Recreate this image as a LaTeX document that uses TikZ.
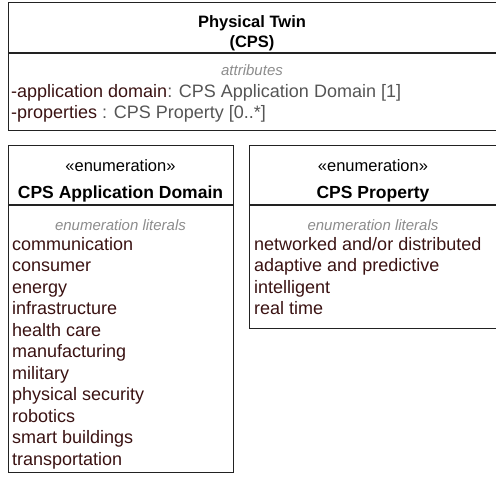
\documentclass[tikz,border=0pt]{standalone}
\usepackage{fontspec}
\setmainfont{Liberation Sans}
\definecolor{lit}{HTML}{3A1212}
\definecolor{typ}{HTML}{555555}
\definecolor{cap}{HTML}{8C8C8C}
\definecolor{edge}{HTML}{222222}
\begin{document}
\begin{tikzpicture}[x=1pt,y=-1pt,
  umlbox/.style={draw=edge,line width=1.4pt,inner sep=0pt,anchor=north west},
  divider/.style={draw=edge,line width=1.4pt},
  clstitle/.style={font=\fontsize{16.5}{20}\selectfont\bfseries,anchor=base,inner sep=0pt},
  title/.style={font=\fontsize{17.5}{20}\selectfont\bfseries,anchor=base,inner sep=0pt},
  stereo/.style={font=\fontsize{16.5}{20}\selectfont,anchor=base,inner sep=0pt},
  caption/.style={font=\fontsize{15}{18}\selectfont\itshape,text=cap,anchor=base,inner sep=0pt},
  item/.style={font=\fontsize{18}{21}\selectfont,text=lit,anchor=base west,inner sep=0pt}]
\useasboundingbox (0,0) rectangle (496,480);

% class box
\node[umlbox,minimum width=490pt,minimum height=128pt] (cls) at (8,2) {};
\coordinate (clsdl) at (8,53);
\coordinate (clsdr) at (498,53);
\draw[divider] (clsdl) -- (clsdr);
\node[clstitle] (clsname) at (252,27) {Physical Twin};
\node[clstitle] (clscps) at (252,47) {(CPS)};
\node[caption] (clsattr) at (252,75) {attributes};
\node[item] (attr1) at (11,97) {-application domain\textcolor{typ}{: CPS Application Domain [1]}};
\node[item] (attr2) at (11,118) {-properties\ \textcolor{typ}{: CPS Property [0..*]}};

% enumeration: application domain
\node[umlbox,minimum width=225pt,minimum height=327pt] (dom) at (8,145) {};
\coordinate (domdl) at (8,205);
\coordinate (domdr) at (233,205);
\draw[divider] (domdl) -- (domdr);
\node[stereo] (domst) at (120.5,171) {«enumeration»};
\node[title] (domname) at (120.5,198) {CPS Application Domain};
\node[caption] (domcap) at (120.5,230) {enumeration literals};
\foreach \t [count=\i from 0] in {communication,consumer,energy,infrastructure,health care,manufacturing,military,physical security,robotics,smart buildings,transportation}
  \node[item] (dom\i) at (12,250+21.5*\i) {\t};

% enumeration: property
\node[umlbox,minimum width=249pt,minimum height=183pt] (prop) at (249,145) {};
\coordinate (propdl) at (249,205);
\coordinate (propdr) at (498,205);
\draw[divider] (propdl) -- (propdr);
\node[stereo] (propst) at (373,171) {«enumeration»};
\node[title] (propname) at (373,198) {CPS Property};
\node[caption] (propcap) at (373,230) {enumeration literals};
\foreach \t [count=\i from 0] in {networked and/or distributed,adaptive and predictive,intelligent,real time}
  \node[item] (prop\i) at (254,250+21.5*\i) {\t};
\end{tikzpicture}
\end{document}
